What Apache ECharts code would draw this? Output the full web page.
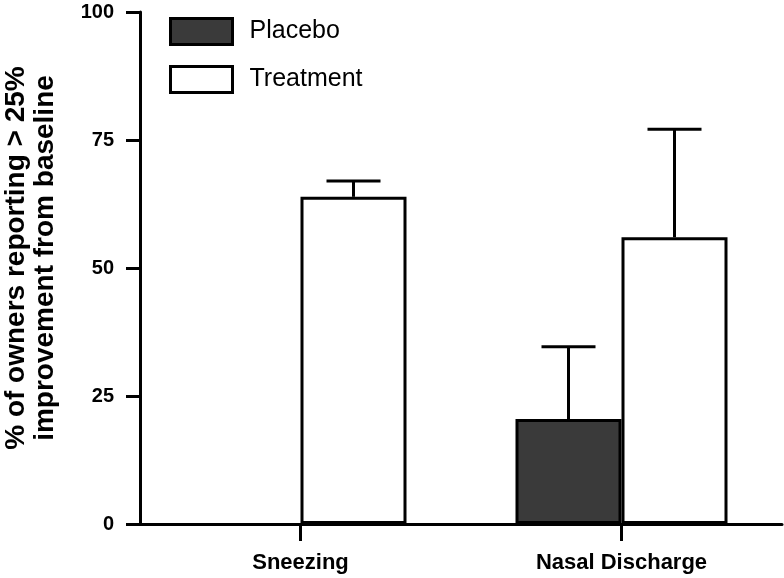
<!DOCTYPE html>
<html>
<head>
<meta charset="utf-8">
<script src="https://cdn.jsdelivr.net/npm/echarts@6/dist/echarts.min.js"></script>
<style>html,body{margin:0;padding:0;background:#fff}#c{width:784px;height:578px}</style>
</head>
<body>
<div id="c"></div>
<script>
const categories = ['Sneezing', 'Nasal Discharge'];
const placeboMean = [0, 20.5];
const placeboErrTop = [null, 34.6];
const treatmentMean = [63.9, 56];
const treatmentErrTop = [67, 77.1];
const yTicks = [0, 25, 50, 75, 100];

const FONT = '"Liberation Sans", Arial, sans-serif';
const BAR_W = 106;
const CAP_W = 54;

function errSeries(name, means, tops, offset) {
  return {
    type: 'custom',
    name: name + ' err',
    z: 5,
    data: categories.map((c, i) => [i, means[i], tops[i]]),
    renderItem: function (params, api) {
      const top = api.value(2);
      if (top === null || isNaN(top)) return null;
      const p0 = api.coord([api.value(0), api.value(1)]);
      const p1 = api.coord([api.value(0), top]);
      const x = p0[0] + offset;
      const st = { stroke: '#000', lineWidth: 3 };
      return {
        type: 'group',
        children: [
          { type: 'line', shape: { x1: x, y1: p0[1], x2: x, y2: p1[1] }, style: st },
          { type: 'line', shape: { x1: x - CAP_W / 2, y1: p1[1], x2: x + CAP_W / 2, y2: p1[1] }, style: st }
        ]
      };
    }
  };
}

const chart = echarts.init(document.getElementById('c'));
chart.setOption({
  animation: false,
  backgroundColor: '#fff',
  grid: { left: 140, right: 2, top: 12, bottom: 54, containLabel: false },
  legend: {
    data: ['Placebo', 'Treatment'],
    orient: 'vertical',
    left: 164, top: 12,
    icon: 'rect',
    itemWidth: 62, itemHeight: 26, itemGap: 19,
    itemStyle: { borderColor: '#000', borderWidth: 3 },
    textStyle: { fontFamily: FONT, fontSize: 25, color: '#000', padding: [0, 0, 0, 12] }
  },
  xAxis: {
    type: 'category',
    data: categories,
    axisLine: { lineStyle: { color: '#000', width: 3 } },
    axisTick: { show: false },
    axisLabel: { fontFamily: FONT, fontSize: 22, fontWeight: 'bold', color: '#000', margin: 28 }
  },
  yAxis: {
    type: 'value',
    min: 0, max: 100, interval: 25,
    splitLine: { show: false },
    axisLine: { show: true, lineStyle: { color: '#000', width: 3 } },
    axisTick: { show: true, length: 14, lineStyle: { color: '#000', width: 3 } },
    axisLabel: {
      fontFamily: FONT, fontSize: 20, fontWeight: 'bold', color: '#000', margin: 26,
      formatter: v => yTicks.includes(v) ? String(v) : ''
    }
  },
  graphic: [{
    type: 'text',
    x: 31, y: 258,
    rotation: Math.PI / 2,
    style: {
      text: '% of owners reporting > 25%\nimprovement from baseline',
      font: 'bold 28px ' + FONT,
      fill: '#000',
      align: 'center',
      verticalAlign: 'middle',
      lineHeight: 29
    }
  }],
  series: [
    {
      name: 'Placebo', type: 'bar',
      data: placeboMean.map(v => v === 0 ? { value: v, itemStyle: { borderWidth: 0 } } : v),
      barWidth: BAR_W, barGap: '0%',
      itemStyle: { color: '#3a3a3a', borderColor: '#000', borderWidth: 3 }
    },
    {
      name: 'Treatment', type: 'bar', data: treatmentMean,
      barWidth: BAR_W, barGap: '0%',
      itemStyle: { color: '#fff', borderColor: '#000', borderWidth: 3 }
    },
    errSeries('Placebo', placeboMean, placeboErrTop, -BAR_W / 2),
    errSeries('Treatment', treatmentMean, treatmentErrTop, BAR_W / 2),
    {
      type: 'custom',
      name: 'xticks',
      clip: false,
      z: 6,
      data: categories.map((c, i) => [i, 0]),
      renderItem: function (params, api) {
        const p = api.coord([api.value(0), 0]);
        return { type: 'line', shape: { x1: p[0], y1: p[1], x2: p[0], y2: p[1] + 17 },
                 style: { stroke: '#000', lineWidth: 3 } };
      }
    }
  ]
});
</script>
</body>
</html>
